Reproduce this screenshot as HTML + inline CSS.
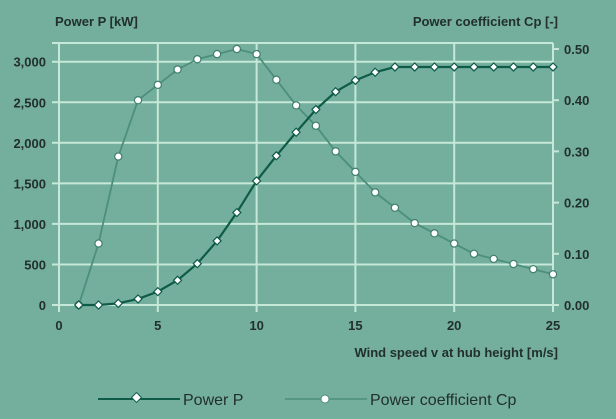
<!DOCTYPE html>
<html><head><meta charset="utf-8"><style>
body{margin:0;background:#74ae9c;}
svg{display:block;font-family:"Liberation Sans Narrow","Liberation Sans",sans-serif;}
.t{font-weight:bold;font-size:13px;fill:#22302c;}
.lg{font-size:16px;fill:#22302c;}
</style></head><body>
<svg id="chart" width="616" height="419">
<rect width="616" height="419" fill="#74ae9c"/>
<g id="grid"></g><g id="axes"></g><g id="series"></g>
<text class="t" x="55" y="26">Power P [kW]</text>
<text class="t" x="558" y="26" text-anchor="end">Power coefficient Cp [-]</text>
<text class="t" x="558" y="357" text-anchor="end">Wind speed v at hub height [m/s]</text>
<g>
<g>
<line x1="98" y1="399" x2="180" y2="399" stroke="#0e5c48" stroke-width="2"/>
<rect x="133" y="394" width="7" height="7" fill="#fff" stroke="#0e5c48" transform="rotate(45 136.5 397.5)"/>
<text class="lg" x="183" y="405">Power P</text></g>
<g>
<line x1="285" y1="399" x2="367" y2="399" stroke="#4c8f7c" stroke-width="1.5"/>
<circle cx="325" cy="399" r="4" fill="#fff" stroke="#4c8f7c"/>
<text class="lg" x="370" y="405">Power coefficient Cp</text></g>
</g>
</svg>
<script>
const windSpeeds=[1,2,3,4,5,6,7,8,9,10,11,12,13,14,15,16,17,18,19,20,21,22,23,24,25];
const powerKW=[0,0,20,75,165,305,510,790,1140,1530,1840,2130,2410,2630,2770,2870,2935,2935,2935,2935,2935,2935,2935,2935,2935];
const cpValues=[0,0.12,0.29,0.40,0.43,0.46,0.48,0.49,0.50,0.49,0.44,0.39,0.35,0.30,0.26,0.22,0.19,0.16,0.14,0.12,0.10,0.09,0.08,0.07,0.06];
const xTicks=[0,5,10,15,20,25];
const pTicks=[0,500,1000,1500,2000,2500,3000];
const pTickLabels=["0","500","1,000","1,500","2,000","2,500","3,000"];
const cpTicks=[0,0.1,0.2,0.3,0.4,0.5];
const cpTickLabels=["0.00","0.10","0.20","0.30","0.40","0.50"];
const NS="http://www.w3.org/2000/svg";
const X=v=>59+v*(553-59)/25;
const YP=v=>305-v*(305-61.7)/3000;
const YC=v=>305-v*(305-49)/0.5;
function mk(tag,attrs,parent){const e=document.createElementNS(NS,tag);for(const k in attrs)e.setAttribute(k,attrs[k]);parent.appendChild(e);return e;}
const grid=document.getElementById('grid'),axes=document.getElementById('axes'),ser=document.getElementById('series');
const gc="#c6e8d8";
mk('line',{x1:52,y1:43,x2:553,y2:43,stroke:gc,'stroke-width':2},grid);
xTicks.forEach((v,i)=>{
 const l=mk('line',{x1:X(v),y1:43,x2:X(v),y2:312,stroke:gc,'stroke-width':2},grid);
 
 
 const t=mk('text',{x:X(v),y:330,'text-anchor':'middle',class:'t'},axes);
 t.textContent=v;
 
 
});
pTicks.forEach((v,i)=>{
 const l=mk('line',{x1:52,y1:YP(v),x2:553,y2:YP(v),stroke:gc,'stroke-width':2},grid);
 
 
 const t=mk('text',{x:46,y:YP(v)+5,'text-anchor':'end',class:'t'},axes);
 t.textContent=pTickLabels[i];
 
 
});
cpTicks.forEach((v,i)=>{
 const l=mk('line',{x1:553,y1:YC(v),x2:559,y2:YC(v),stroke:gc,'stroke-width':2},grid);
 
 
 const t=mk('text',{x:564,y:YC(v)+5,class:'t'},axes);
 t.textContent=cpTickLabels[i];
 
 
});
const cpLine=mk('polyline',{points:windSpeeds.map((w,i)=>X(w)+','+YC(cpValues[i])).join(' '),fill:'none',stroke:'#4c8f7c','stroke-width':1.8},ser);


const pLine=mk('polyline',{points:windSpeeds.map((w,i)=>X(w)+','+YP(powerKW[i])).join(' '),fill:'none',stroke:'#0e5c48','stroke-width':2.2},ser);


windSpeeds.forEach((w,i)=>{
 const c=mk('circle',{cx:X(w),cy:YC(cpValues[i]),r:3.6,fill:'#fff',stroke:'#3f7f6c','stroke-width':1.2},ser);
 
 
});
windSpeeds.forEach((w,i)=>{
 const x=X(w),y=YP(powerKW[i]);
 const d=mk('polygon',{points:`${x},${y-4} ${x+4},${y} ${x},${y+4} ${x-4},${y}`,fill:'#fff',stroke:'#0e5c48','stroke-width':1.2},ser);
 
 
});
</script>
</body></html>
